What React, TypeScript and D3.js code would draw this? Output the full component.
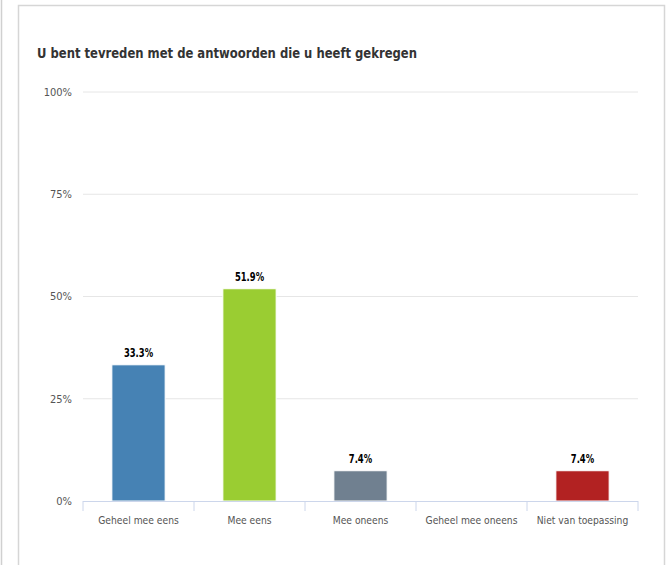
import React from "react";
import * as d3 from "d3";

const categories = ["Geheel mee eens", "Mee eens", "Mee oneens", "Geheel mee oneens", "Niet van toepassing"];
const values = [33.3, 51.9, 7.4, 0, 7.4];
const colors = ["#4682b4", "#9acd32", "#708090", "#708090", "#b22222"];
const yTicks = [0, 25, 50, 75, 100];
const title = "U bent tevreden met de antwoorden die u heeft gekregen";

const W = 671;
const H = 565;
const FONT = "'DejaVu Sans', sans-serif";

export default function App() {
  const left = 83, right = 638, top = 92, bottom = 501;
  const x = d3.scaleBand<string>().domain(categories).range([left, right]).paddingInner(0.52).paddingOuter(0.26);
  const xb = d3.scaleBand<string>().domain(categories).range([left, right]);
  const y = d3.scaleLinear().domain([0, 100]).range([bottom, top]);
  const cond = { fontStretch: "condensed" as const };

  return (
    <svg width={W} height={H} style={{ position: "absolute", left: 0, top: 0, display: "block" }}>
      <rect x={0} y={0} width={W} height={H} fill="#fff" />
      <line x1={1.5} y1={0} x2={1.5} y2={H} stroke="#d0d0d0" strokeWidth={1.5} />
      <rect x={18.5} y={5.5} width={646} height={H + 10} fill="#fff" stroke="#d6d6d6" strokeWidth={1.5} />
      <text x={37} y={58} fontFamily={FONT} fontSize={14} fontWeight="bold" fill="#333" style={cond} textLength={380} lengthAdjust="spacingAndGlyphs">{title}</text>
      {yTicks.map((t) => (
        <g key={t}>
          {t > 0 && <line x1={left} x2={right} y1={y(t)} y2={y(t)} stroke="#e6e6e6" strokeWidth={1} />}
          <text x={72} y={y(t)} dy="0.35em" textAnchor="end" fontFamily={FONT} fontSize={11} fill="#555" style={cond}>{t}%</text>
        </g>
      ))}
      {categories.map((c, i) => (
        <g key={c}>
          {values[i] > 0 && (
            <rect x={x(c)} y={y(values[i])} width={x.bandwidth()} height={bottom - y(values[i])} fill={colors[i]} stroke="#fff" strokeWidth={1} />
          )}
          {values[i] > 0 && (
            <text transform={`translate(${(x(c) as number) + x.bandwidth() / 2},${y(values[i]) - 8}) scale(0.78,1)`} textAnchor="middle" fontFamily={FONT} fontSize={12} fontWeight="bold" fill="#000" style={cond}>{values[i].toFixed(1)}%</text>
          )}
          <text transform={`translate(${(xb(c) as number) + xb.bandwidth() / 2},524) scale(0.93,1)`} textAnchor="middle" fontFamily={FONT} fontSize={11} fill="#555" style={cond}>{c}</text>
        </g>
      ))}
      <line x1={left} x2={right} y1={bottom + 0.5} y2={bottom + 0.5} stroke="#ccd6eb" strokeWidth={1} />
      {d3.range(categories.length + 1).map((i) => {
        const tx = left + i * xb.step();
        return <line key={i} x1={tx} x2={tx} y1={bottom} y2={bottom + 10} stroke="#ccd6eb" strokeWidth={1} />;
      })}
    </svg>
  );
}
